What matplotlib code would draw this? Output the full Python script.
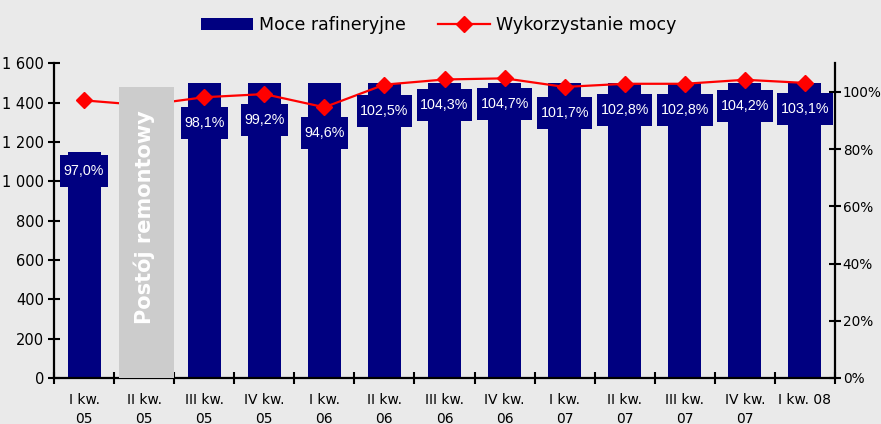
import numpy as np
import matplotlib
matplotlib.use("Agg")
import matplotlib.pyplot as plt
from matplotlib.path import Path
from matplotlib.patches import Rectangle, Patch
from matplotlib.lines import Line2D
from matplotlib.ticker import FuncFormatter, FixedLocator

# ---- data ----
categories = ["I kw.\n05", "II kw.\n05", "III kw.\n05", "IV kw.\n05",
              "I kw.\n06", "II kw.\n06", "III kw.\n06", "IV kw.\n06",
              "I kw.\n07", "II kw.\n07", "III kw.\n07", "IV kw.\n07",
              "I kw. 08"]
capacity = [1150, 0, 1500, 1500, 1500, 1500, 1500, 1500, 1500, 1500, 1500, 1500, 1500]
utilization = [97.0, 95.3, 98.1, 99.2, 94.6, 102.5, 104.3, 104.7, 101.7, 102.8, 102.8, 104.2, 103.1]
util_labels = ["97,0%", None, "98,1%", "99,2%", "94,6%", "102,5%", "104,3%",
               "104,7%", "101,7%", "102,8%", "102,8%", "104,2%", "103,1%"]
legend_labels = ["Moce rafineryjne", "Wykorzystanie mocy"]
remont_text = "Postój remontowy"
remont_height = 1480
left_ticks = [0, 200, 400, 600, 800, 1000, 1200, 1400, 1600]
right_ticks = [0, 20, 40, 60, 80, 100]

BG = "#EAEAEA"
NAVY = "#000080"
RED = "#FF0000"
GRAY = "#CCCCCC"

plt.rcParams["font.family"] = ["DejaVu Sans"]

fig = plt.figure(figsize=(8.81, 4.24), dpi=100, facecolor=BG)
ax = fig.add_axes([0.0613, 0.1085, 0.8865, 0.7425])
ax.set_facecolor(BG)

x = np.arange(len(categories))
ax.bar(x, capacity, width=0.55, color=NAVY, zorder=2)
ax.set_xlim(-0.5, len(categories) - 0.5)
ax.set_ylim(0, 1600)
ax.yaxis.set_major_locator(FixedLocator(left_ticks))
ax.yaxis.set_major_formatter(FuncFormatter(lambda v, p: f"{int(v):,}".replace(",", " ")))

ax.set_xticks(np.arange(-0.5, len(categories), 1.0))
ax.set_xticklabels([])
ax.set_xticks(x, minor=True)
ax.set_xticklabels(categories, minor=True, fontsize=10, linespacing=1.4)
ax.tick_params(axis="x", which="minor", length=0, pad=11)
ax.tick_params(axis="x", which="major", direction="inout", length=8, width=1.5)
ax.tick_params(axis="y", direction="inout", length=8, width=1.5, labelsize=10.5, pad=3)

for s in ["top", "right"]:
    ax.spines[s].set_visible(False)
for s in ["left", "bottom"]:
    ax.spines[s].set_linewidth(1.6)

ax2 = ax.twinx()
ax2.set_ylim(0, 110)
ax2.yaxis.set_major_locator(FixedLocator(right_ticks))
ax2.yaxis.set_major_formatter(FuncFormatter(lambda v, p: f"{int(v)}%"))
ax2.tick_params(axis="y", direction="inout", length=8, width=1.5, labelsize=9.8, pad=1.5)
for s in ["top", "left", "bottom"]:
    ax2.spines[s].set_visible(False)
ax2.spines["right"].set_linewidth(1.6)

ax2.plot(x, utilization, color=RED, lw=1.6, marker="D", ms=8, zorder=3)

rect = Rectangle((0.58, 0), 0.92, remont_height, facecolor=GRAY, edgecolor="none",
                 transform=ax.transData, zorder=4)
ax2.add_patch(rect)
ax2.text(1.0, 816, remont_text, transform=ax.transData, rotation=90, ha="center",
         va="center", color="white", fontweight="bold", fontsize=15, zorder=5)


def navy_box(x0, y0, width, height, mutation_size):
    padx, pady = 3.5, 9.0
    return Path([(x0 - padx, y0 - pady), (x0 + width + padx, y0 - pady),
                 (x0 + width + padx, y0 + height + pady), (x0 - padx, y0 + height + pady),
                 (x0 - padx, y0 - pady)], closed=True)


for i, lbl in enumerate(util_labels):
    if lbl is None:
        continue
    off = -71 if i == 0 else -26
    ax2.annotate(lbl, (x[i], utilization[i]), xytext=(0, off), textcoords="offset pixels",
                 ha="center", va="center", color="white", fontsize=10.3,
                 family=["Liberation Sans", "DejaVu Sans"],
                 bbox=dict(boxstyle=navy_box, facecolor=NAVY, edgecolor="none"), zorder=6)

handles = [Patch(facecolor=NAVY, edgecolor="none"),
           Line2D([0], [0], color=RED, lw=1.6, marker="D", ms=8)]
fig.legend(handles, legend_labels, loc="center", bbox_to_anchor=(0.498, 0.941), ncol=2,
           frameon=False, fontsize=12.5, handlelength=2.95, columnspacing=1.9,
           handletextpad=0.35)

fig.savefig("out.png", dpi=100, facecolor=BG)
